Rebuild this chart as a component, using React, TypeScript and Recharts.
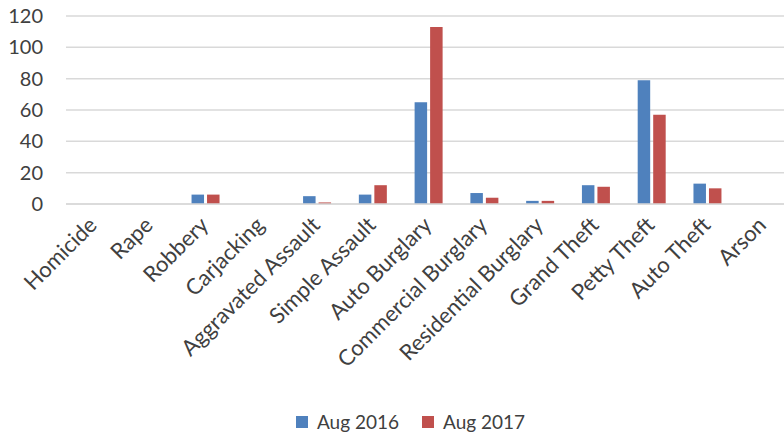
import { BarChart, Bar, XAxis, YAxis, CartesianGrid, Legend } from "recharts"

const categories = [
  "Homicide",
  "Rape",
  "Robbery",
  "Carjacking",
  "Aggravated Assault",
  "Simple Assault",
  "Auto Burglary",
  "Commercial Burglary",
  "Residential Burglary",
  "Grand Theft",
  "Petty Theft",
  "Auto Theft",
  "Arson",
]
const aug2016 = [0, 0, 6, 0, 5, 6, 65, 7, 2, 12, 79, 13, 0]
const aug2017 = [0, 0, 6, 0, 1, 12, 113, 4, 2, 11, 57, 10, 0]
const yTicks = [0, 20, 40, 60, 80, 100, 120]

const FONT = "Lato, 'Open Sans', sans-serif"
const TEXT = "#404040"
const BLUE = "#4f81bd"
const RED = "#c0504d"

const data = categories.map((name, i) => ({
  name,
  "Aug 2016": aug2016[i],
  "Aug 2017": aug2017[i],
}))

function CategoryTick({ x, y, payload }: any) {
  return (
    <g transform={`translate(${x - 1},${y + 9})`}>
      <text
        transform="rotate(-45)"
        textAnchor="end"
        dy="0.35em"
        fill={TEXT}
        fontSize={22}
        fontFamily={FONT}
      >
        {payload.value}
      </text>
    </g>
  )
}

function ChartLegend() {
  const items = [
    { label: "Aug 2016", color: BLUE },
    { label: "Aug 2017", color: RED },
  ]
  return (
    <div style={{ display: "flex", justifyContent: "center", gap: 23, fontFamily: FONT, fontSize: 19, color: TEXT }}>
      {items.map(item => (
        <div key={item.label} style={{ display: "flex", alignItems: "center", gap: 9 }}>
          <div style={{ width: 12, height: 12, background: item.color }} />
          <span>{item.label}</span>
        </div>
      ))}
    </div>
  )
}

export default function App() {
  return (
    <div style={{ position: "absolute", left: 0, top: 0, width: 784, height: 433, background: "#fff", overflow: "hidden" }}>
      <BarChart
        width={784}
        height={433}
        data={data}
        margin={{ top: 16, right: -7, bottom: 0, left: 0 }}
        barSize={12.5}
        barGap={3}
      >
        <CartesianGrid vertical={false} stroke="#d9d9d9" strokeWidth={1.5} />
        <XAxis
          dataKey="name"
          interval={0}
          height={199}
          tickLine={false}
          axisLine={{ stroke: "#d9d9d9", strokeWidth: 1.5 }}
          tick={<CategoryTick />}
        />
        <YAxis
          width={66}
          domain={[0, 120]}
          ticks={yTicks}
          tickLine={false}
          axisLine={false}
          tickSize={0}
          tickMargin={23}
          tick={{ fill: TEXT, fontSize: 20, fontFamily: FONT }}
        />
        <Legend
          verticalAlign="bottom"
          height={30}
          content={<ChartLegend />}
          wrapperStyle={{ left: 15, bottom: -7 }}
        />
        <Bar dataKey="Aug 2016" fill={BLUE} isAnimationActive={false} />
        <Bar dataKey="Aug 2017" fill={RED} isAnimationActive={false} />
      </BarChart>
    </div>
  )
}
